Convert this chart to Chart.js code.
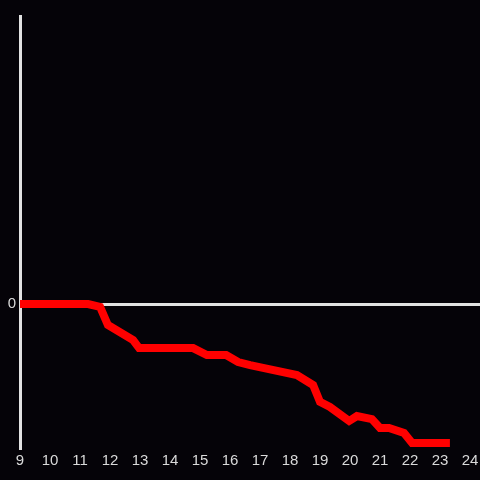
<!DOCTYPE html>
<html>
<head>
<meta charset="utf-8">
<script src="https://cdn.jsdelivr.net/npm/chart.js@4/dist/chart.umd.min.js"></script>
<style>
  html, body { margin: 0; padding: 0; background: #050308; }
  #wrap { width: 480px; height: 480px; }
</style>
</head>
<body>
<div id="wrap"><canvas id="c" width="480" height="480"></canvas></div>
<script>
// values
const xVals = [9, 11.27, 11.67, 11.93, 12.77, 12.97, 14.77, 15.23, 15.87, 16.27, 16.67, 17.1,
  18.23, 18.77, 19, 19.33, 19.97, 20.23, 20.73, 21, 21.3, 21.8, 22.07, 23.33];
const yVals = [0, 0, -0.02, -0.146, -0.25, -0.306, -0.306, -0.354, -0.354, -0.403, -0.424, -0.444,
  -0.493, -0.5625, -0.68, -0.715, -0.8125, -0.778, -0.799, -0.861, -0.861, -0.896, -0.965, -0.965];
const xTicks = [9, 10, 11, 12, 13, 14, 15, 16, 17, 18, 19, 20, 21, 22, 23, 24];
const yTicks = [0];

const AXIS = "#e2e2e2";
const TEXT = "#dadada";
const FONT = { family: "'Liberation Sans', Arial, sans-serif", size: 15 };

const bg = {
  id: "bg",
  beforeDraw(c) {
    const ctx = c.ctx;
    ctx.save();
    ctx.fillStyle = "#050308";
    ctx.fillRect(0, 0, c.width, c.height);
    ctx.restore();
  },
};

new Chart(document.getElementById("c"), {
  type: "line",
  data: {
    datasets: [{
      data: xVals.map((x, i) => ({ x, y: yVals[i] })),
      borderColor: "#ff0000",
      borderWidth: 8,
      pointRadius: 0,
      tension: 0,
      fill: false,
    }],
  },
  options: {
    responsive: false,
    animation: false,
    layout: { padding: { top: 16, right: 0, left: 0, bottom: 0 } },
    plugins: { legend: { display: false }, tooltip: { enabled: false } },
    scales: {
      x: {
        type: "linear",
        min: 9, max: 24.333,
        afterBuildTicks: (s) => { s.ticks = xTicks.map((value) => ({ value })); },
        afterFit: (s) => { s.height = 32; s.paddingLeft = 0; s.paddingRight = 0; },
        grid: { display: false, drawTicks: false },
        border: { display: false },
        ticks: { color: TEXT, font: FONT, padding: 4, maxRotation: 0, autoSkip: false },
      },
      y: {
        min: -1, max: 2,
        afterBuildTicks: (s) => { s.ticks = yTicks.map((value) => ({ value })); },
        afterFit: (s) => { s.width = 20; s.paddingTop = 0; s.paddingBottom = 0; },
        grid: { color: AXIS, lineWidth: 3, drawTicks: false },
        border: { display: true, color: AXIS, width: 3 },
        ticks: { color: TEXT, font: FONT, padding: 4 },
      },
    },
  },
  plugins: [bg],
});
</script>
</body>
</html>
